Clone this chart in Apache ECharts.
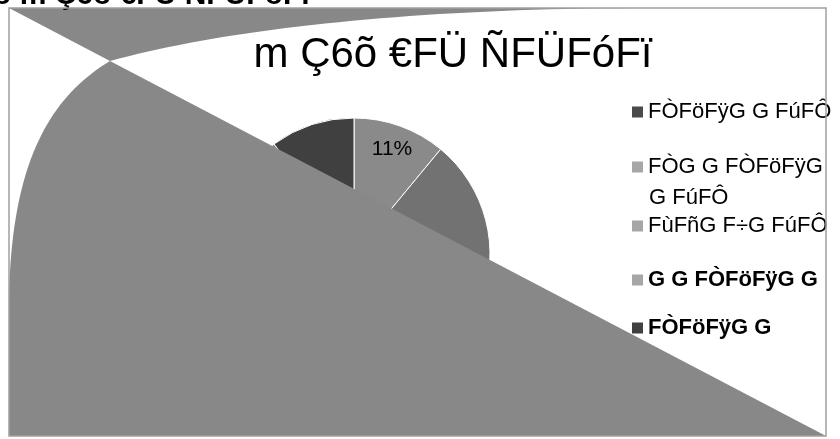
<!DOCTYPE html>
<html><head><meta charset="utf-8">
<script src="https://cdn.jsdelivr.net/npm/echarts@6/dist/echarts.min.js"></script>
<style>html,body{margin:0;padding:0;background:#fff}#c{width:840px;height:439px}</style>
</head><body><div id="c"></div>
<script>
const titleText = 'm Ç6õ €FÜ ÑFÜFóFï';
const headerText = 'õ m Ç6õ €FÜ ÑFÜFóFï';
const categories = ['FÒFöFÿG G FúFÔ', 'FÒG G FÒFöFÿG G FúFÔ', 'FùFñG F÷G FúFÔ', 'G G FÒFöFÿG G', 'FÒFöFÿG G'];
const values = [11, 20, 30, 29, 10];
const sliceColors = ['#8a8a8a', '#727272', '#878787', '#878787', '#404040'];
const legendColors = ['#4a4a4a', '#a6a6a6', '#a6a6a6', '#a6a6a6', '#404040'];

const FONT = '"Liberation Sans", Arial, sans-serif';
const legendTops = [99, 154, 213, 267, 315];
const legendWeights = ['normal', 'normal', 'normal', 'bold', 'bold'];
const wrapWords = categories[1].split(' ');
const line1 = wrapWords.slice(0, 3).join(' ');
const line2 = wrapWords.slice(3).join(' ');

// decorative background artifact (not data): sampled cubic curves
function bez(p0, p1, p2, p3, n) {
  const pts = [];
  for (let k = 0; k <= n; k++) {
    const t = k / n, u = 1 - t;
    pts.push([
      u*u*u*p0[0] + 3*u*u*t*p1[0] + 3*u*t*t*p2[0] + t*t*t*p3[0],
      u*u*u*p0[1] + 3*u*u*t*p1[1] + 3*u*t*t*p2[1] + t*t*t*p3[1]
    ]);
  }
  return pts;
}
const bandPts = [[9, 8]].concat(bez([110, 61], [230, 28], [420, 8], [650, 8], 40));
const bigPts = [[110, 61], [826, 436], [9, 436]].concat(bez([9, 295], [12, 170], [45, 100], [110, 61], 40));

const chart = echarts.init(document.getElementById('c'), null, {renderer: 'canvas'});
chart.setOption({
  animation: false,
  backgroundColor: '#fff',
  title: {
    text: titleText, left: 448, textAlign: 'center', top: 29,
    textStyle: {fontFamily: FONT, fontSize: 42, fontWeight: 'normal', color: '#000'}
  },
  legend: categories.map((n, i) => ({
    orient: 'vertical', left: 632, top: legendTops[i], padding: 0,
    itemWidth: 11, itemHeight: 11, icon: 'rect', selectedMode: false, z: 5,
    itemStyle: {borderWidth: 0},
    data: [{name: n, itemStyle: {color: legendColors[i], borderWidth: 0}}],
    formatter: i === 1 ? () => line1 : '{name}',
    textStyle: {fontFamily: FONT, fontSize: 22, lineHeight: 26, color: '#000', fontWeight: legendWeights[i]}
  })),
  series: [{
    type: 'pie', center: [354, 254], radius: 136, startAngle: 90, clockwise: true,
    silent: true, z: 2,
    itemStyle: {borderColor: '#fff', borderWidth: 1},
    label: {show: false, position: 'inside', formatter: '{d}%', fontSize: 21, color: '#000', fontFamily: FONT},
    labelLine: {show: false},
    labelLayout: {dx: 14, dy: -38},
    data: categories.map((n, i) => ({
      name: n, value: values[i],
      itemStyle: {color: sliceColors[i]},
      label: {show: i === 0}
    }))
  }],
  graphic: [
    {type: 'polygon', z: 3, silent: true, shape: {points: bandPts}, style: {fill: '#888888'}},
    {type: 'polygon', z: 3, silent: true, shape: {points: bigPts}, style: {fill: '#888888'}},
    {type: 'text', z: 6, silent: true, x: 649, y: 198,
     style: {text: line2, fontFamily: FONT, fontSize: 22, fill: '#000', verticalAlign: 'middle', align: 'left'}},
    {type: 'text', z: 6, silent: true, x: -7, y: -4.5,
     style: {text: headerText, fontFamily: FONT, fontSize: 30, fontWeight: 'bold', fill: '#000', verticalAlign: 'middle', align: 'left'}},
    {type: 'rect', z: 20, silent: true,
     shape: {x: 9, y: 8, width: 817, height: 428},
     style: {fill: 'none', stroke: '#a0a0a0', lineWidth: 1.5}}
  ]
});
</script></body></html>
